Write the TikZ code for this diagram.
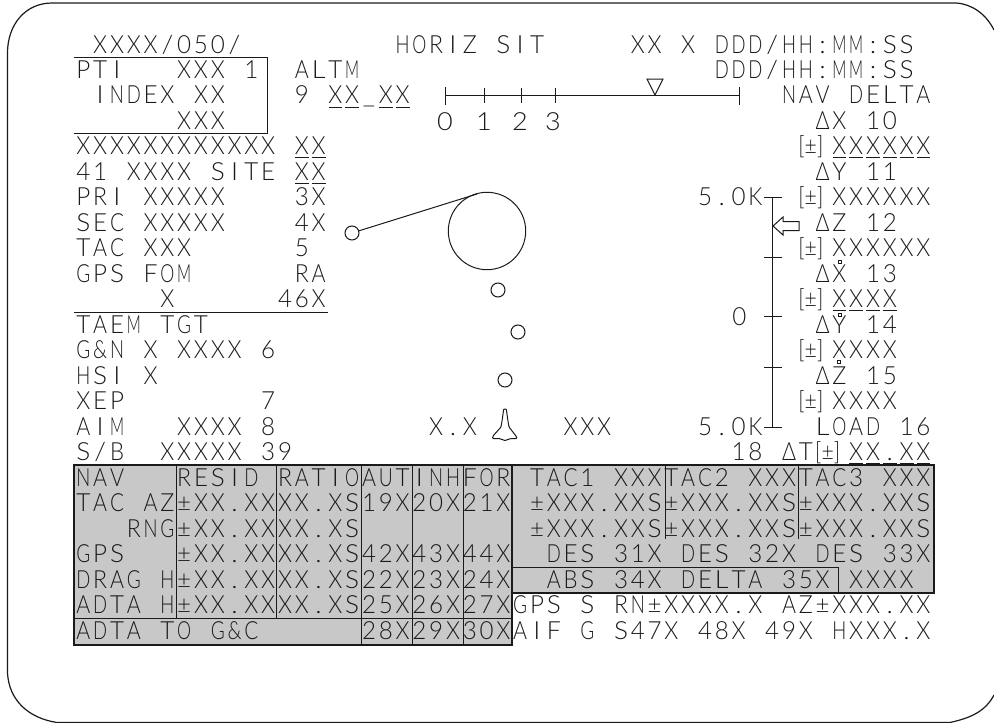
\documentclass[tikz,border=0pt]{standalone}
\usepackage{fontspec}
\usepackage{graphicx}
\setmainfont[FakeStretch=1.08]{Lato Light}
\definecolor{ink}{HTML}{1A1A1A}
\definecolor{panel}{HTML}{C8C8C8}
\newcommand{\cellend}{\relax}
\newsavebox{\cellbox}
\def\cells#1{\ifx#1\cellend\else\sbox{\cellbox}{#1}\makebox[16.8pt][c]{\ifdim\wd\cellbox>14pt\relax\resizebox{14pt}{\height}{#1}\else#1\fi}\expandafter\cells\fi}
\newcommand{\tl}[3]{\node[txt] (t#2c#1) at ({75+#1*16.8},{53+#2*25.48}) {\cells#3\cellend};}
\newcommand{\pb}[2]{\node[txt] (b#2c#1) at ({75+#1*16.8+1},{53+#2*25.48}) {\resizebox{25pt}{\height}{[±]}};}
\newcommand{\ul}[3]{\foreach \u in {#1,...,#2} {\draw[ulx] ({75+\u*16.8+1.5},{53+#3*25.48+3}) -- ({75+\u*16.8+15.3},{53+#3*25.48+3});}}
\tikzset{
 txt/.style={anchor=base west,inner sep=0pt,outer sep=0pt,text=ink,font=\fontsize{25}{26}\selectfont},
 lnx/.style={draw=ink,line width=1pt},
 ulx/.style={draw=ink,line width=.9pt},
 frm/.style={draw=ink,line width=1.8pt},
 dotx/.style={draw=ink,line width=.8pt,fill=white}
}
\begin{document}
\begin{tikzpicture}[x=1pt,y=-1pt]
\useasboundingbox (0,0) rectangle (994,723);
% frame
\draw[draw=ink,line width=1.2pt] (7.5,53) .. controls (7.5,25) and (25,3) .. (52,3) -- (956,3) .. controls (972,4) and (986,14) .. (994,30);
\draw[draw=ink,line width=1.2pt] (7.5,53) -- (7.5,673) .. controls (9,700) and (28,718) .. (57,722.5) -- (950,722.5) .. controls (970,718) and (985,712) .. (994,695);
% panels
\fill[panel] (74,465) rectangle (512,645);
\fill[panel] (512,465) rectangle (934,593);
\draw[frm] (74,465) rectangle (512,645);
\draw[frm] (512,465) rectangle (934,593);
\draw[lnx] (74,618) -- (512,618);
\foreach \x in {176,276} \draw[lnx] (\x,465) -- (\x,618);
\foreach \x in {361,412,463} \draw[lnx] (\x,465) -- (\x,645);
\foreach \x in {665,798} \draw[lnx] (\x,465) -- (\x,539);
\draw[lnx] (512,567) -- (838,567) -- (838,593);
% left boxes
\draw[lnx] (74,57) -- (267,57) -- (267,133) -- (74,133);
\draw[lnx] (74,312) -- (328,312);
% top scale
\draw[lnx] (445,95) -- (739,95);
\draw[lnx] (445,87) -- (445,105);
\draw[lnx] (739,87) -- (739,105);
\foreach \x in {484,521,555} \draw[lnx] (\x,88) -- (\x,103);
\draw[lnx] (647,79) -- (663,79) -- (655,95) -- cycle;
% right scale
\draw[lnx] (772,197) -- (772,427);
\foreach \y in {197,257,316,367,427} \draw[lnx] (764,\y) -- (782,\y);
\draw[lnx] (773,226) -- (783,217) -- (783,221.5) -- (799,221.5) -- (799,230.5) -- (783,230.5) -- (783,235) -- cycle;
% circles
\node[circle,draw=ink,line width=1pt,minimum size=77.4pt,inner sep=0pt] (big) at (487,231) {};
\node[circle,draw=ink,line width=1pt,minimum size=14pt,inner sep=0pt] (way) at (352,233) {};
\coordinate (tan) at (477,194);
\draw[lnx] (way) -- (tan);
\node[circle,draw=ink,line width=1pt,minimum size=14pt,inner sep=0pt] (c1) at (498,290) {};
\node[circle,draw=ink,line width=1pt,minimum size=14pt,inner sep=0pt] (c2) at (518,332) {};
\node[circle,draw=ink,line width=1pt,minimum size=14pt,inner sep=0pt] (c3) at (505,380) {};
% orbiter
\draw[lnx,rounded corners=.8pt] (503.7,409) -- (506.3,409) -- (507.8,420) -- (509,427) -- (516,436) -- (517,438.5) -- (511,438.5) -- (505,440.5) -- (499,438.5) -- (492.5,438.5) -- (493,436) -- (501,427) -- (502.2,420) -- cycle;
% text
\tl{1}{0}{XXXX/050/}
\tl{19}{0}{HORIZ~SIT}
\tl{33}{0}{XX~X~DDD/HH:MM:SS}
\tl{0}{1}{PTI~~~XXX~1}
\tl{13}{1}{ALTM}
\tl{38}{1}{DDD/HH:MM:SS}
\tl{1}{2}{INDEX~XX}
\tl{13}{2}{9~XX\_XX}
\tl{42}{2}{NAV~DELTA}
\tl{6}{3}{XXX}
\node[txt,anchor=base] (s0) at (445,130) {0};
\node[txt,anchor=base] (s1) at (484,130) {1};
\node[txt,anchor=base] (s2) at (520,130) {2};
\node[txt,anchor=base] (s3) at (553,130) {3};
\tl{44}{3}{ΔX~10}
\tl{0}{4}{XXXXXXXXXXXX}
\tl{13}{4}{XX}
\pb{43}{4}
\tl{45}{4}{XXXXXX}
\tl{0}{5}{41~XXXX~SITE}
\tl{13}{5}{XX}
\tl{44}{5}{ΔY~11}
\tl{0}{6}{PRI~XXXXX}
\tl{13}{6}{3X}
\tl{37}{6}{5.0K}
\pb{43}{6}
\tl{45}{6}{XXXXXX}
\tl{0}{7}{SEC~XXXXX}
\tl{13}{7}{4X}
\tl{44}{7}{ΔZ~12}
\tl{0}{8}{TAC~XXX}
\tl{13}{8}{5}
\pb{43}{8}
\tl{45}{8}{XXXXXX}
\tl{0}{9}{GPS~FOM}
\tl{13}{9}{RA}
\tl{44}{9}{ΔX~13}
\tl{5}{10}{X}
\tl{12}{10}{46X}
\pb{43}{10}
\tl{45}{10}{XXXX}
\node[txt] (zero) at (731,325) {\cells0\cellend};
\tl{0}{11}{TAEM~TGT}
\tl{44}{11}{ΔY~14}
\tl{0}{12}{G\&N~X~XXXX~6}
\pb{43}{12}
\tl{45}{12}{XXXX}
\tl{0}{13}{HSI~X}
\tl{44}{13}{ΔZ~15}
\tl{0}{14}{XEP}
\tl{11}{14}{7}
\pb{43}{14}
\tl{45}{14}{XXXX}
\tl{0}{15}{AIM}
\tl{6}{15}{XXXX}
\tl{11}{15}{8}
\tl{21}{15}{X.X}
\tl{29}{15}{XXX}
\tl{37}{15}{5.0K}
\tl{44}{15}{LOAD~16}
\tl{0}{16}{S/B}
\tl{5}{16}{XXXXX}
\tl{11}{16}{39}
\tl{39}{16}{18}
\tl{42}{16}{ΔT}
\pb{44}{16}
\tl{46}{16}{XX.XX}
% table
\tl{0}{17}{NAV}
\tl{6}{17}{RESID}
\tl{12}{17}{RATIO}
\tl{17}{17}{AUT}
\tl{20}{17}{INH}
\tl{23}{17}{FOR}
\tl{27}{17}{TAC1~XXX}
\tl{35}{17}{TAC2~XXX}
\tl{43}{17}{TAC3~XXX}
\tl{0}{18}{TAC~AZ}
\tl{6}{18}{±XX.XX}
\tl{12}{18}{XX.XS}
\tl{17}{18}{19X}
\tl{20}{18}{20X}
\tl{23}{18}{21X}
\tl{27}{18}{±XXX.XXS}
\tl{35}{18}{±XXX.XXS}
\tl{43}{18}{±XXX.XXS}
\tl{3}{19}{RNG}
\tl{6}{19}{±XX.XX}
\tl{12}{19}{XX.XS}
\tl{27}{19}{±XXX.XXS}
\tl{35}{19}{±XXX.XXS}
\tl{43}{19}{±XXX.XXS}
\tl{0}{20}{GPS}
\tl{6}{20}{±XX.XX}
\tl{12}{20}{XX.XS}
\tl{17}{20}{42X}
\tl{20}{20}{43X}
\tl{23}{20}{44X}
\tl{28}{20}{DES~31X}
\tl{36}{20}{DES~32X}
\tl{44}{20}{DES~33X}
\tl{0}{21}{DRAG~H}
\tl{6}{21}{±XX.XX}
\tl{12}{21}{XX.XS}
\tl{17}{21}{22X}
\tl{20}{21}{23X}
\tl{23}{21}{24X}
\tl{28}{21}{ABS~34X}
\tl{36}{21}{DELTA~35X}
\tl{46}{21}{XXXX}
\tl{0}{22}{ADTA~H}
\tl{6}{22}{±XX.XX}
\tl{12}{22}{XX.XS}
\tl{17}{22}{25X}
\tl{20}{22}{26X}
\tl{23}{22}{27X}
\tl{26}{22}{GPS~S~RN±XXXX.X~AZ±XXX.XX}
\tl{0}{23}{ADTA~TO~G\&C}
\tl{17}{23}{28X}
\tl{20}{23}{29X}
\tl{23}{23}{30X}
\tl{26}{23}{AIF~G~S47X~48X~49X~HXXX.X}
% underlines
\ul{15}{16}{2}\ul{18}{19}{2}
\ul{13}{14}{4}\ul{13}{14}{5}
\ul{45}{50}{4}\ul{45}{48}{10}
\ul{46}{50}{16}
% rate dots
\draw[dotx] (838.5,260) rectangle +(3,3);
\draw[dotx] (838.5,313) rectangle +(3,3);
\draw[dotx] (837.5,360) rectangle +(3,3);
\end{tikzpicture}
\end{document}
